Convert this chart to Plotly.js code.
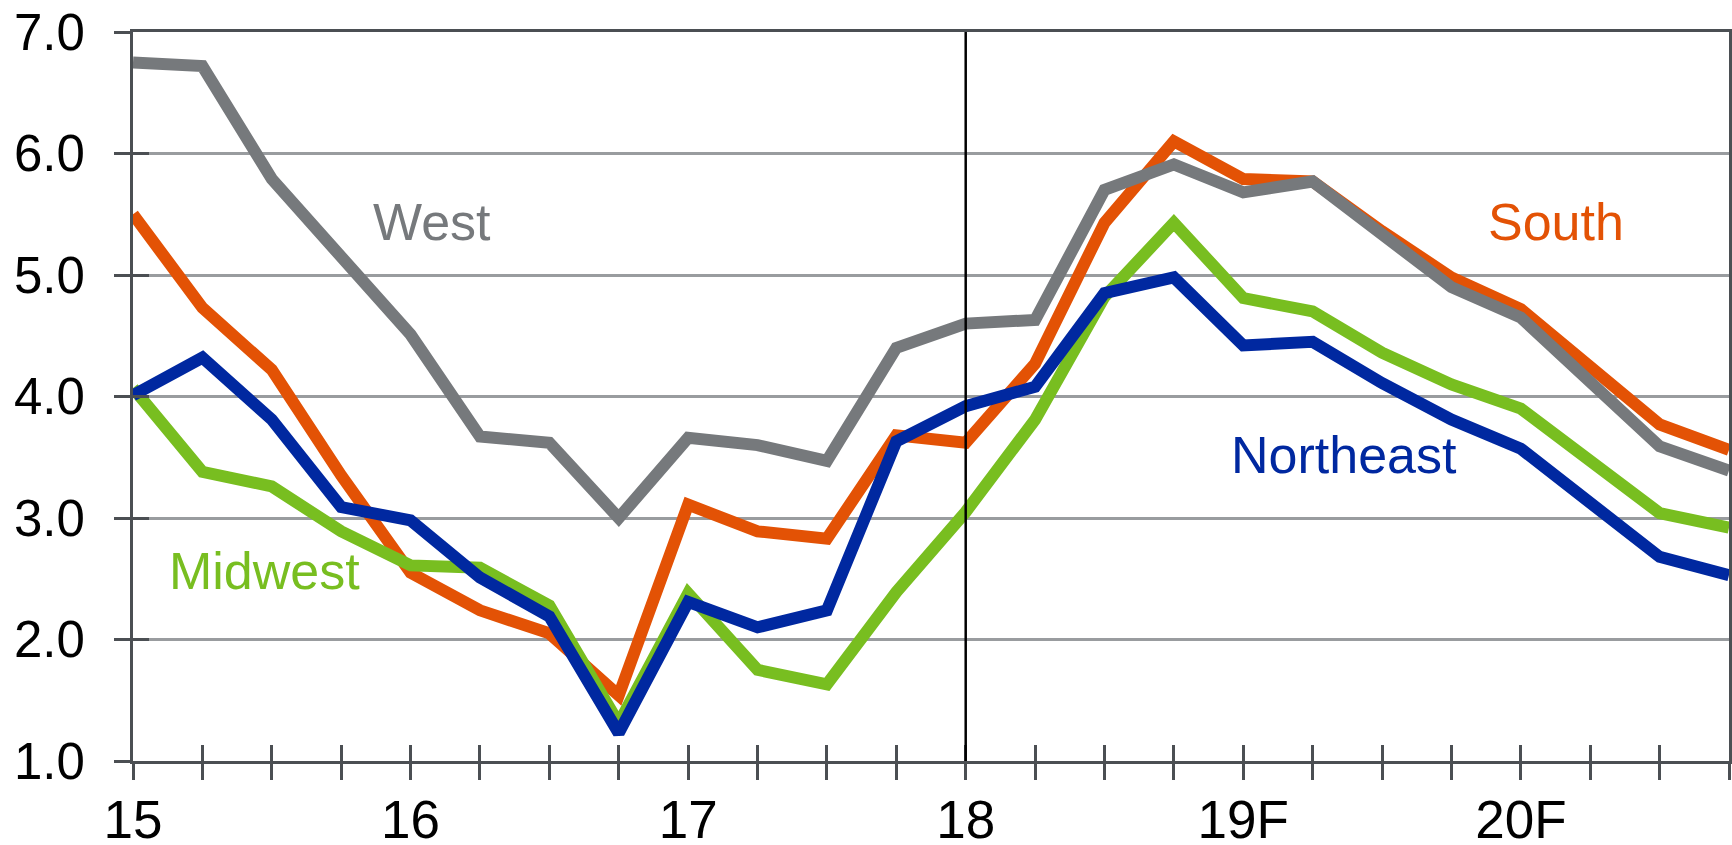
<!DOCTYPE html>
<html>
<head>
<meta charset="utf-8">
<script src="https://cdn.plot.ly/plotly-3.0.1.min.js"></script>
<style>
  html, body { margin: 0; padding: 0; background: #ffffff; }
  #chart { width: 1732px; height: 845px; }
</style>
</head>
<body>
<div id="chart"></div>
<script>
// Quarterly periods, 2015 Q1 through 2020 Q4 (decimal year, two-digit)
const quarterX = [
  15, 15.25, 15.5, 15.75,
  16, 16.25, 16.5, 16.75,
  17, 17.25, 17.5, 17.75,
  18, 18.25, 18.5, 18.75,
  19, 19.25, 19.5, 19.75,
  20, 20.25, 20.5, 20.75
];

// Year tick positions and labels (F = forecast)
const yearTicks = [15, 16, 17, 18, 19, 20];
const yearLabels = ['15', '16', '17', '18', '19F', '20F'];

// Regional series
const south = [
  5.50, 4.73, 4.22, 3.35,
  2.55, 2.24, 2.05, 1.54,
  3.11, 2.89, 2.83, 3.68,
  3.62, 4.27, 5.43, 6.10,
  5.79, 5.77, 5.36, 4.98,
  4.72, 4.24, 3.77, 3.56
];
const west = [
  6.75, 6.72, 5.79, 5.14,
  4.51, 3.67, 3.62, 3.00,
  3.66, 3.60, 3.47, 4.40,
  4.60, 4.63, 5.70, 5.91,
  5.68, 5.77, 5.32, 4.90,
  4.65, 4.12, 3.59, 3.39
];
const midwest = [
  4.07, 3.38, 3.26, 2.89,
  2.61, 2.59, 2.28, 1.31,
  2.38, 1.75, 1.63, 2.39,
  3.05, 3.81, 4.82, 5.43,
  4.81, 4.70, 4.36, 4.10,
  3.90, 3.46, 3.04, 2.92
];
const northeast = [
  4.01, 4.32, 3.81, 3.09,
  2.98, 2.51, 2.19, 1.23,
  2.31, 2.10, 2.24, 3.63,
  3.92, 4.08, 4.85, 4.98,
  4.42, 4.45, 4.11, 3.81,
  3.57, 3.13, 2.68, 2.53
];

const regionNames = ['South', 'West', 'Midwest', 'Northeast'];
const regionColors = ['#e35205', '#76797c', '#78be20', '#0028a0'];
const regionSeries = [south, west, midwest, northeast];

// Where each region's name is written on the chart (x in years, y in value units)
const labelX = [20.126, 16.078, 15.473, 19.363];
const labelY = [5.44, 5.44, 2.566, 3.517];

const FONT = '"Liberation Sans", Arial, Helvetica, sans-serif';
const AXIS_DARK = '#4b4f53';

const traces = regionSeries.map((vals, i) => ({
  type: 'scatter',
  mode: 'lines',
  name: regionNames[i],
  x: quarterX,
  y: vals,
  line: { color: regionColors[i], width: 12, shape: 'linear' },
  hoverinfo: 'x+y+name'
}));

// Empty trace that carries the inward half of the tick marks
traces.push({
  type: 'scatter', mode: 'lines', x: [], y: [],
  xaxis: 'x2', yaxis: 'y2', showlegend: false, hoverinfo: 'skip'
});

const annotations = regionNames.map((name, i) => ({
  x: labelX[i], y: labelY[i], xref: 'x', yref: 'y',
  text: name, showarrow: false,
  xanchor: 'center', yanchor: 'middle',
  font: { family: FONT, size: 52, color: regionColors[i] }
}));

const layout = {
  width: 1732,
  height: 845,
  margin: { l: 133, r: 3, t: 32, b: 84 },
  paper_bgcolor: '#ffffff',
  plot_bgcolor: '#ffffff',
  showlegend: false,
  xaxis: {
    range: [15, 20.75],
    tickmode: 'array',
    tickvals: yearTicks,
    ticktext: yearLabels,
    ticks: 'outside',
    ticklen: 16,
    tickwidth: 3,
    tickcolor: AXIS_DARK,
    minor: { tickvals: quarterX, ticks: 'outside', ticklen: 16, tickwidth: 3, tickcolor: AXIS_DARK, showgrid: false },
    ticklabelstandoff: -6,
    showgrid: false,
    zeroline: false,
    showline: true,
    linecolor: AXIS_DARK,
    linewidth: 3,
    mirror: true,
    tickfont: { family: FONT, size: 53, color: '#000000' }
  },
  yaxis: {
    range: [1, 7],
    tickmode: 'linear',
    tick0: 1,
    dtick: 1,
    tickformat: '.1f',
    ticks: 'outside',
    ticklen: 16,
    tickwidth: 3,
    tickcolor: AXIS_DARK,
    ticklabelstandoff: 19,
    showgrid: true,
    gridcolor: '#999c9f',
    gridwidth: 3,
    zeroline: false,
    showline: true,
    linecolor: AXIS_DARK,
    linewidth: 3,
    mirror: true,
    tickfont: { family: FONT, size: 51, color: '#000000' }
  },
  xaxis2: {
    overlaying: 'x',
    anchor: 'y2',
    range: [15, 20.75],
    tickmode: 'array',
    tickvals: quarterX,
    ticks: 'inside',
    ticklen: 16,
    tickwidth: 3,
    tickcolor: AXIS_DARK,
    showticklabels: false,
    showgrid: false,
    zeroline: false,
    showline: false
  },
  yaxis2: {
    overlaying: 'y',
    anchor: 'x2',
    range: [1, 7],
    tickmode: 'linear',
    tick0: 1,
    dtick: 1,
    ticks: 'inside',
    ticklen: 16,
    tickwidth: 3,
    tickcolor: AXIS_DARK,
    showticklabels: false,
    showgrid: false,
    zeroline: false,
    showline: false
  },
  shapes: [{
    type: 'line', xref: 'x', yref: 'paper',
    x0: 18, x1: 18, y0: 0, y1: 1,
    line: { color: '#000000', width: 2.5 },
    layer: 'above'
  }],
  annotations: annotations
};

Plotly.newPlot('chart', traces, layout, { displayModeBar: false, staticPlot: true });
</script>
</body>
</html>
